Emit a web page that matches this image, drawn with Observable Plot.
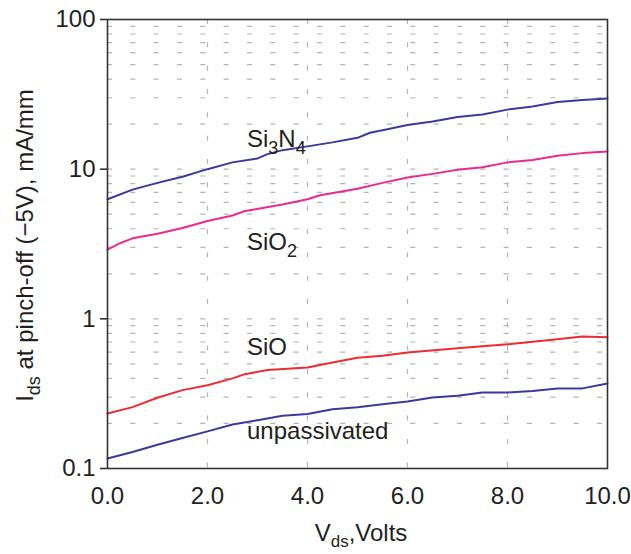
<!DOCTYPE html>
<html>
<head>
<meta charset="utf-8">
<script src="https://cdn.jsdelivr.net/npm/d3@7"></script>
<script src="https://cdn.jsdelivr.net/npm/@observablehq/plot@0.6"></script>
<style>
  html, body { margin: 0; padding: 0; background: #fff; }
  #chart svg { display: block; }
</style>
</head>
<body>
<div id="chart"></div>
<script>
// ---- Data ----
const si3n4V = [0, 0.5, 1, 1.5, 2, 2.5, 3, 3.2, 3.5, 4, 4.5, 5, 5.25, 5.5, 6, 6.5, 7, 7.5, 8, 8.5, 9, 9.5, 10];
const si3n4I = [6.3, 7.3, 8.1, 8.9, 10, 11.1, 11.8, 12.6, 13.4, 14.2, 15.1, 16.2, 17.5, 18.2, 19.7, 20.8, 22.3, 23.2, 25.0, 26.2, 28.1, 29.0, 29.7];

const sio2V = [0, 0.25, 0.5, 1, 1.5, 2, 2.5, 2.75, 3.5, 4, 4.25, 5, 5.5, 6, 6.5, 7, 7.5, 8, 8.5, 9, 9.5, 10];
const sio2I = [2.9, 3.2, 3.45, 3.7, 4.05, 4.5, 4.9, 5.25, 5.8, 6.3, 6.7, 7.4, 8.1, 8.8, 9.3, 9.9, 10.3, 11.1, 11.5, 12.3, 12.8, 13.1];

const sioV = [0, 0.5, 1, 1.5, 2, 2.5, 2.75, 3.2, 4, 4.5, 5, 5.5, 6, 7, 8, 8.9, 9.5, 10];
const sioI = [0.233, 0.257, 0.297, 0.334, 0.36, 0.40, 0.427, 0.455, 0.473, 0.51, 0.55, 0.566, 0.595, 0.637, 0.677, 0.724, 0.762, 0.752];

const unpV = [0, 0.5, 1, 1.5, 2, 2.5, 3, 3.5, 4, 4.5, 5, 5.5, 6, 6.5, 7, 7.5, 8, 8.5, 9, 9.5, 10];
const unpI = [0.1167, 0.129, 0.144, 0.16, 0.177, 0.197, 0.21, 0.225, 0.231, 0.249, 0.257, 0.269, 0.28, 0.298, 0.306, 0.322, 0.322, 0.33, 0.343, 0.343, 0.37];

const xTicks = [0, 2, 4, 6, 8, 10];
const xTickLabels = ["0.0", "2.0", "4.0", "6.0", "8.0", "10.0"];
const yTicks = [0.1, 1, 10, 100];
const yTickLabels = ["0.1", "1", "10", "100"];
const xGrid = [2, 4, 6, 8];
const yGrid = [0.2,0.3,0.4,0.5,0.6,0.7,0.8,0.9,1,2,3,4,5,6,7,8,9,10,20,30,40,50,60,70,80,90];

// series labels: text parts (normal / subscript) and anchor point in data units
const seriesLabels = [
  {parts: [["Si",""],["3","sub"],["N",""],["4","sub"]], x: 2.8, y: 14.0},
  {parts: [["SiO",""],["2","sub"]], x: 2.8, y: 2.85},
  {parts: [["SiO",""]], x: 2.8, y: 0.57},
  {parts: [["unpassivated",""]], x: 2.8, y: 0.157}
];

const colBlue = "#3a3a9c";
const colMagenta = "#ec2a8e";
const colRed = "#ee2c30";
const textColor = "#231f20";
const gridColor = "#b4b4b4";

const toRows = (V, I) => V.map((v, i) => ({v, i: I[i]}));

const plot = Plot.plot({
  width: 631,
  height: 554,
  marginLeft: 107,
  marginRight: 24,
  marginTop: 19,
  marginBottom: 86,
  style: {fontFamily: "'Liberation Sans', Arial, sans-serif", fontSize: "24px", color: textColor, background: "#fff"},
  x: {domain: [0, 10], label: null},
  y: {type: "log", domain: [0.1, 100], label: null},
  marks: [
    Plot.ruleY(yGrid, {stroke: gridColor, strokeWidth: 1.2, strokeDasharray: "5,18.33"}),
    Plot.ruleX(xGrid, {stroke: gridColor, strokeWidth: 1.2, strokeDasharray: "5,18.33"}),
    Plot.line(toRows(si3n4V, si3n4I), {x: "v", y: "i", stroke: colBlue, strokeWidth: 2}),
    Plot.line(toRows(sio2V, sio2I), {x: "v", y: "i", stroke: colMagenta, strokeWidth: 2}),
    Plot.line(toRows(sioV, sioI), {x: "v", y: "i", stroke: colRed, strokeWidth: 2}),
    Plot.line(toRows(unpV, unpI), {x: "v", y: "i", stroke: colBlue, strokeWidth: 2}),
    Plot.frame({stroke: "#333", strokeWidth: 1.6}),
    Plot.axisY({ticks: yTicks, tickSize: 7, tickPadding: 5, tickFormat: d => yTickLabels[yTicks.indexOf(d)], fontSize: 24, stroke: "#333", strokeWidth: 1.6, label: null}),
    Plot.axisX({ticks: xTicks, tickSize: 0, tickPadding: 18, tickFormat: d => xTickLabels[xTicks.indexOf(d)], fontSize: 24, label: null})
  ]
});

document.getElementById("chart").appendChild(plot);

// Labels with subscripts, positioned through the plot's scales
const sx = plot.scale("x"), sy = plot.scale("y");
const svg = d3.select(plot);
const g = svg.append("g")
  .attr("font-family", "'Liberation Sans', Arial, sans-serif")
  .attr("font-size", 24)
  .attr("fill", textColor)
  .attr("text-anchor", "start");

for (const L of seriesLabels) {
  const t = g.append("text").attr("x", sx.apply(L.x)).attr("y", sy.apply(L.y)).attr("text-anchor", "start");
  let prevSub = false;
  for (const [s, kind] of L.parts) {
    const isSub = kind === "sub";
    const dy = isSub ? (prevSub ? 0 : 7) : (prevSub ? -7 : 0);
    const ts = t.append("tspan").attr("dy", dy).text(s);
    if (isSub) ts.attr("font-size", 18);
    prevSub = isSub;
  }
}

// Axis titles
const xt = g.append("text").attr("x", (sx.apply(0) + sx.apply(10)) / 2 + 4).attr("y", 541).attr("text-anchor", "middle");
xt.append("tspan").text("V");
xt.append("tspan").attr("dy", 6).attr("font-size", 17).text("ds");
xt.append("tspan").attr("dy", -6).text(",Volts");

const yt = g.append("text").attr("transform", `translate(33,${(sy.apply(0.1) + sy.apply(100)) / 2 + 2}) rotate(-90)`).attr("text-anchor", "middle");
yt.append("tspan").text("I");
yt.append("tspan").attr("dy", 7).attr("font-size", 18).text("ds");
yt.append("tspan").attr("dy", -7).text(" at pinch-off (\u22125V), mA/mm");
</script>
</body>
</html>
